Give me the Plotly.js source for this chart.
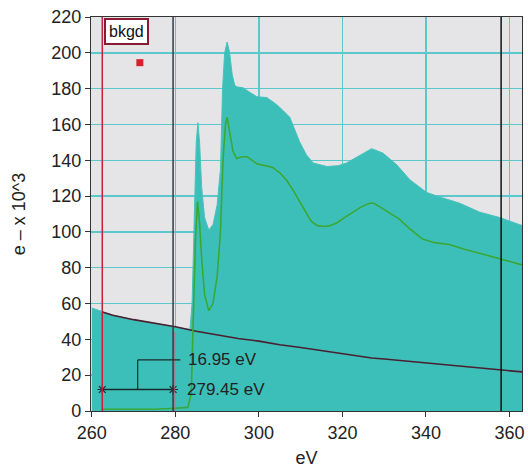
<!DOCTYPE html>
<html><head><meta charset="utf-8">
<script src="https://cdn.plot.ly/plotly-3.0.1.min.js"></script>
<style>html,body{margin:0;padding:0;background:#fff}#chart{width:528px;height:468px}</style>
</head><body><div id="chart"></div>
<script>
// Raw spectrum (filled)
const rawE = [260,262.5,265,270,275,279.5,282,283.5,284.0,284.5,285.0,285.4,285.8,286.3,287,288,289,290,290.8,291.3,291.8,292.4,293,293.6,294.2,294.7,296.2,297.8,299.5,301.9,304.3,305.7,307.4,308.6,309.8,311.4,313,316.3,319,321,324.2,327,329.7,333,336.2,340.2,343.3,348.1,352.9,357.7,362.5,363.2];
const rawY = [57.5,55.5,53.5,51,49,47,46,45.5,60,110,150,161,150,125,108,101,104,115,135,180,200,206,200,188,182,181,180.5,178,175.5,175,171,168,164,157,150,143,138.5,136.5,137,138.5,143,146.5,144,137.5,129,122,119.5,116,111,108,104,103.5];
// Background fit
const bkgE = [262.5,265,270,275,280,285,290,293,295,300,305,310,320,327,330,340,350,353,360,363.2];
const bkgY = [55.3,53.5,51,49,47,44.5,42.5,41.4,40.5,39,37,35.5,32,29.6,29,26.8,24.6,24,22.5,21.8];
// Background-subtracted signal
const sigE = [262.5,270,275,280,283,283.8,284.3,284.8,285.3,285.8,286.3,287,288,289,290,290.8,291.4,292.0,292.4,293,293.8,294.7,296,297.2,299.5,301.5,303.3,305,306.6,308,309.5,311,312.5,314,315.5,317,318.6,320.5,322.4,324.5,326.5,327.5,329,331,333.7,336,339.2,342,345.6,349,352.8,357.6,362.4,363.2];
const sigY = [1,1,1,1.5,2,10,50,95,117,105,85,65,56,60,75,100,140,160,164,155,145,141,142,142,138,137,136,133,129,124,118,112,106,103.5,103,103.5,105,108,111,114,116,116,114,111,107,102,96,94,93,90.5,88,85,82,81.5];
// Window markers
const winStart = 262.5, winEnd = 279.45, roiEnd = 358;
const markE = [271.5], markY = [194.5];
const winWidthLabel = "16.95 eV", winEndLabel = "279.45 eV";
const xTicks = [260,280,300,320,340,360];
const yTicks = [0,20,40,60,80,100,120,140,160,180,200,220];

const traces = [
 {x: rawE, y: rawY, type:'scatter', mode:'lines', fill:'tozeroy', fillcolor:'#3dbfb9', line:{color:'#46c3bd', width:1}, hoverinfo:'skip'},
 {x: bkgE, y: bkgY, type:'scatter', mode:'lines', line:{color:'#4a1f30', width:1.6}},
 {x: sigE, y: sigY, type:'scatter', mode:'lines', line:{color:'#3aa834', width:1.6}},
 {x: markE, y: markY, type:'scatter', mode:'markers', marker:{symbol:'square', size:7, color:'#d8202c'}},
 {x: [winStart, winEnd], y: [12, 12], type:'scatter', mode:'lines+markers', line:{color:'#1a2a2a', width:1.3}, marker:{symbol:'asterisk-open', size:8, line:{color:'#1a2a2a', width:1.2}}}
];

const layout = {
 width:528, height:468,
 margin:{l:91, r:6, t:17, b:57},
 paper_bgcolor:'#ffffff', plot_bgcolor:'#e5e5e7',
 showlegend:false,
 font:{family:'Liberation Sans, Arial, sans-serif', color:'#222', size:18},
 xaxis:{range:[259.8,363], tickvals:xTicks, ticks:'outside', ticklen:5, tickcolor:'#333',
   showgrid:true, gridcolor:'#5cc8cc', gridwidth:1.5, zeroline:false,
   showline:true, linecolor:'#333', linewidth:1.2, mirror:true,
   tickfont:{size:18}, title:{text:'eV', font:{size:18}, standoff:9}},
 yaxis:{range:[0,220], tickvals:yTicks, ticks:'outside', ticklen:5, tickcolor:'#333',
   showgrid:true, gridcolor:'#5cc8cc', gridwidth:1.5, zeroline:false,
   showline:true, linecolor:'#333', linewidth:1.2, mirror:true,
   tickfont:{size:18}, title:{text:'e \u2013 x 10^3', font:{size:18}, standoff:20}},
 shapes:[
  {type:'line', xref:'x', yref:'paper', x0:winStart, x1:winStart, y0:0, y1:1, line:{color:'#c8203c', width:1.5}},
  {type:'line', xref:'x', yref:'paper', x0:winEnd, x1:winEnd, y0:0, y1:1, line:{color:'#3a3a3a', width:1.5}},
  {type:'line', xref:'x', yref:'paper', x0:winEnd+0.4, x1:winEnd+0.4, y0:0, y1:0.2, line:{color:'#c8607a', width:0.8}},
  {type:'line', xref:'x', yref:'paper', x0:roiEnd, x1:roiEnd, y0:0, y1:1, line:{color:'#111', width:1.5}},
  {type:'line', xref:'x', yref:'y', x0:(winStart+winEnd)/2, x1:(winStart+winEnd)/2, y0:12, y1:28.5, line:{color:'#1a2a2a', width:1.2}},
  {type:'line', xref:'x', yref:'y', x0:(winStart+winEnd)/2, x1:281.2, y0:28.5, y1:28.5, line:{color:'#1a2a2a', width:1.2}}
 ],
 annotations:[
  {xref:'x', yref:'y', x:282.6, y:28.5, text:winWidthLabel, showarrow:false, xanchor:'left', yanchor:'middle', font:{size:17, color:'#222'}},
  {xref:'x', yref:'y', x:282.3, y:12, text:winEndLabel, showarrow:false, xanchor:'left', yanchor:'middle', font:{size:17, color:'#222'}},
  {xref:'x', yref:'paper', x:winStart+0.4, y:0.997, text:'bkgd', showarrow:false, xanchor:'left', yanchor:'top',
   font:{size:16, color:'#111'}, bgcolor:'#ffffff', bordercolor:'#8a1a34', borderwidth:2, borderpad:3}
 ]
};
Plotly.newPlot('chart', traces, layout, {displayModeBar:false, staticPlot:true});
</script></body></html>
